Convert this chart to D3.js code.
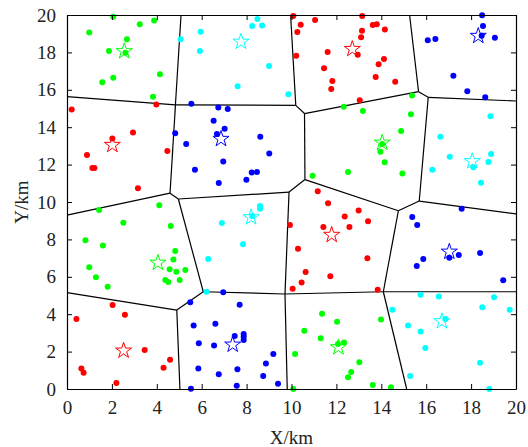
<!DOCTYPE html>
<html lang="en">
    <head>
        <meta charset="utf-8">
        <title>Clusters</title>
        <script type="text/javascript" src="https://cdn.jsdelivr.net/npm/d3@7/dist/d3.min.js"></script>
        <style>
            body { margin: 0; background: #fff; }
            text { font-family: "Liberation Serif", "Times New Roman", serif; }
        </style>
    </head>
    <body>
        <script type="text/javascript">

        var w = 528;
        var h = 447;

        // node positions (km), one array per cluster colour
        var redPts = [
            [0.21,14.94],[3.98,15.22],[2.94,13.72],[2.02,13.40],[4.47,12.73],[0.89,12.51],
            [1.13,11.82],[1.22,11.82],[3.16,10.73],
            [10.08,19.95],[10.41,19.48],[11.05,19.73],[10.26,19.09],[13.15,19.95],[13.14,19.16],
            [13.10,18.81],[12.95,17.88],[10.21,17.82],[11.61,18.02],[11.45,17.15],[11.82,16.47],
            [11.77,16.04],[13.04,15.44],[13.62,19.47],[13.80,19.50],[14.16,19.23],[14.12,17.65],
            [13.88,17.36],[13.75,16.68],[14.62,16.43],
            [11.17,10.57],[11.63,9.93],[12.99,9.54],[12.37,9.23],[13.41,8.97],[11.42,8.66],
            [12.58,8.66],[9.93,8.77],[10.29,7.50],[13.38,6.99],[10.63,6.26],[10.45,5.70],
            [11.73,6.03],[10.05,5.36],[13.84,5.31],
            [2.03,4.49],[2.58,3.97],[0.42,3.74],[3.46,2.09],[4.59,1.57],[4.30,1.14],
            [0.64,1.09],[0.74,0.87],[2.20,0.32]
        ];
        var greenPts = [
            [2.06,19.91],[3.24,19.50],[3.88,19.70],[0.99,19.07],[2.67,18.70],[1.87,18.07],
            [2.60,17.98],[4.14,16.83],[2.06,16.65],[1.57,16.40],[3.83,15.63],
            [12.33,15.10],[13.18,14.87],[15.37,15.70],[15.32,14.69],[14.88,13.80],[14.04,13.10],
            [13.96,12.69],[14.15,12.12],[14.94,11.53],[10.94,11.41],[12.52,11.60],
            [4.11,9.82],[1.43,9.57],[2.51,8.89],[4.62,8.72],[0.82,7.95],[1.60,7.68],[4.82,7.38],
            [4.74,6.92],[0.99,6.51],[1.29,5.97],[1.81,5.47],[4.57,6.40],[4.87,6.27],[5.27,6.36],
            [4.38,5.83],[4.51,5.72],[5.02,5.83],
            [11.36,4.03],[12.03,3.60],[10.57,3.12],[11.30,2.71],[12.07,2.41],[12.34,2.48],
            [10.16,1.87],[13.02,1.43],[12.66,0.91],[12.52,0.63],[10.08,0.00],[13.99,3.71],
            [13.62,0.21],[14.43,0.09]
        ];
        var bluePts = [
            [18.49,19.98],[18.53,19.41],[18.47,18.89],[19.06,18.79],[16.07,18.65],[16.41,18.72],
            [17.21,16.75],[17.83,15.92],[18.63,15.60],
            [6.74,15.06],[7.16,14.97],[6.53,14.35],[7.02,13.92],[6.68,13.64],[8.61,13.49],
            [9.01,12.60],[6.96,12.16],[5.70,11.73],[8.23,11.58],[8.46,11.60],[7.99,11.19],
            [6.76,11.02],[4.82,13.67],[5.31,13.10],[5.54,15.26],
            [17.58,9.64],[15.38,9.20],[15.60,8.77],[17.03,7.02],[17.45,7.17],[18.40,7.27],
            [15.87,6.95],[15.58,6.58],[19.43,5.81],
            [5.49,4.64],[5.64,3.40],[6.61,3.49],[5.87,2.44],[6.55,2.32],[5.85,1.09],[6.76,0.79],
            [5.52,0.02],[6.96,5.17],[7.69,4.51],[7.47,2.83],[7.87,2.94],[7.87,2.80],[7.87,2.62],
            [9.19,1.87],[8.86,1.37],[8.74,0.70],[7.59,1.05],[7.56,0.18],[9.40,0.28]
        ];
        var cyanPts = [
            [5.95,19.10],[5.06,18.70],[5.92,18.07],[8.48,19.79],[8.25,19.41],[8.69,19.44],
            [9.00,17.27],[7.60,16.19],[9.86,15.76],
            [18.86,14.58],[16.63,13.49],[17.05,12.42],[18.89,12.57],[18.77,12.14],[18.10,11.86],
            [16.27,11.73],[18.44,11.03],
            [8.60,9.78],[8.60,9.64],[8.25,9.25],[6.90,8.88],[7.84,7.74],[6.29,6.95],[6.22,5.20],
            [15.75,5.04],[16.56,4.94],[19.02,4.90],[18.50,4.37],[19.72,4.24],[14.49,4.24],
            [16.85,3.74],[15.19,3.39],[15.75,3.07],[15.96,2.19],[18.40,1.41],[15.28,0.70],
            [18.81,0.00]
        ];

        // cluster heads: x, y, colour name
        var heads = [
            [2.55,18.06,"g"],[7.75,18.57,"c"],[12.71,18.18,"r"],[18.32,18.88,"b"],
            [2.02,13.05,"r"],[6.86,13.37,"b"],[14.04,13.17,"g"],[18.05,12.18,"c"],
            [8.20,9.18,"c"],[11.79,8.24,"r"],[4.05,6.75,"g"],[17.03,7.34,"b"],
            [2.52,2.05,"r"],[7.38,2.37,"b"],[12.09,2.23,"g"],[16.70,3.62,"c"]
        ];

        // cell borders
        var edges = [
            [[5.08,20],[4.83,15.19]], [[0,15.64],[4.83,15.19]], [[4.83,15.19],[10.19,15.17]],
            [[10.19,15.17],[9.96,20]], [[10.19,15.17],[10.58,14.73]], [[10.58,14.73],[15.66,15.90]],
            [[15.66,15.90],[15.26,20]], [[15.66,15.90],[16.09,15.60]], [[16.09,15.60],[20,15.40]],
            [[16.09,15.60],[15.69,10.05]], [[4.83,15.19],[4.59,10.47]], [[4.59,10.47],[0,9.30]],
            [[4.59,10.47],[4.96,10.16]], [[4.96,10.16],[9.89,10.53]], [[4.96,10.16],[6.07,5.20]],
            [[9.89,10.53],[10.60,11.20]], [[9.89,10.53],[9.71,5.08]], [[10.58,14.73],[10.60,11.20]],
            [[10.60,11.20],[14.76,9.53]], [[14.76,9.53],[15.69,10.05]], [[14.76,9.53],[14.09,5.20]],
            [[15.69,10.05],[20,9.36]], [[6.07,5.20],[4.89,4.22]], [[6.07,5.20],[9.71,5.08]],
            [[4.89,4.22],[0,5.15]], [[4.89,4.22],[5.03,0]], [[9.71,5.08],[14.09,5.20]],
            [[9.71,5.08],[9.81,0]], [[14.09,5.20],[20,5.20]], [[14.09,5.20],[15.13,0]]
        ];

        var ticks = [0, 2, 4, 6, 8, 10, 12, 14, 16, 18, 20];
        var colors = { r: "#ff0000", g: "#00ff00", b: "#0000ff", c: "#00ffff" };

        var x = d3.scaleLinear().domain([0, 20]).range([67, 516]);
        var y = d3.scaleLinear().domain([0, 20]).range([389, 15]);

        var svg = d3.select("body")
            .append("svg")
            .attr("width", w)
            .attr("height", h);

        // cell borders
        svg.selectAll("line.edge")
           .data(edges)
           .enter()
           .append("line")
           .attr("class", "edge")
           .attr("x1", function(d) { return x(d[0][0]); })
           .attr("y1", function(d) { return y(d[0][1]); })
           .attr("x2", function(d) { return x(d[1][0]); })
           .attr("y2", function(d) { return y(d[1][1]); })
           .attr("stroke", "#000")
           .attr("stroke-width", 1.2);

        // nodes
        var groups = [[redPts, "r"], [greenPts, "g"], [bluePts, "b"], [cyanPts, "c"]];
        groups.forEach(function(g) {
            svg.append("g")
               .selectAll("circle")
               .data(g[0])
               .enter()
               .append("circle")
               .attr("cx", function(d) { return x(d[0]); })
               .attr("cy", function(d) { return y(d[1]); })
               .attr("r", 3)
               .attr("fill", colors[g[1]]);
        });

        // cluster heads
        var star = d3.symbol().type(d3.symbolStar).size(80);
        svg.selectAll("path.head")
           .data(heads)
           .enter()
           .append("path")
           .attr("class", "head")
           .attr("d", star)
           .attr("transform", function(d) {
                return "translate(" + x(d[0]) + "," + y(d[1]) + ")";
           })
           .attr("fill", "none")
           .attr("stroke", function(d) { return colors[d[2]]; })
           .attr("stroke-width", 1);

        // axes, ticks pointing inward on all four sides
        svg.append("g")
           .attr("transform", "translate(0," + y(0) + ")")
           .call(d3.axisBottom(x).tickValues(ticks).tickSizeInner(-5).tickSizeOuter(0).tickPadding(12));
        svg.append("g")
           .attr("transform", "translate(0," + y(20) + ")")
           .call(d3.axisTop(x).tickValues(ticks).tickSizeInner(-5).tickSizeOuter(0).tickFormat(""));
        svg.append("g")
           .attr("transform", "translate(" + x(0) + ",0)")
           .call(d3.axisLeft(y).tickValues(ticks).tickSizeInner(-5).tickSizeOuter(0).tickPadding(11));
        svg.append("g")
           .attr("transform", "translate(" + x(20) + ",0)")
           .call(d3.axisRight(y).tickValues(ticks).tickSizeInner(-5).tickSizeOuter(0).tickFormat(""));

        svg.selectAll(".domain").attr("stroke", "#000").attr("stroke-width", 1.2);
        svg.selectAll(".tick line").attr("stroke", "#000");
        svg.selectAll(".tick text")
           .attr("font-family", "Liberation Serif")
           .attr("font-size", "19px")
           .attr("fill", "#222");

        svg.append("text")
           .attr("x", (x(0) + x(20)) / 2)
           .attr("y", 444)
           .attr("text-anchor", "middle")
           .attr("font-size", "19px")
           .attr("fill", "#222")
           .text("X/km");

        svg.append("text")
           .attr("transform", "translate(28," + (y(10)) + ") rotate(-90)")
           .attr("text-anchor", "middle")
           .attr("font-size", "19px")
           .attr("fill", "#222")
           .text("Y/km");
        </script>
    </body>
</html>
